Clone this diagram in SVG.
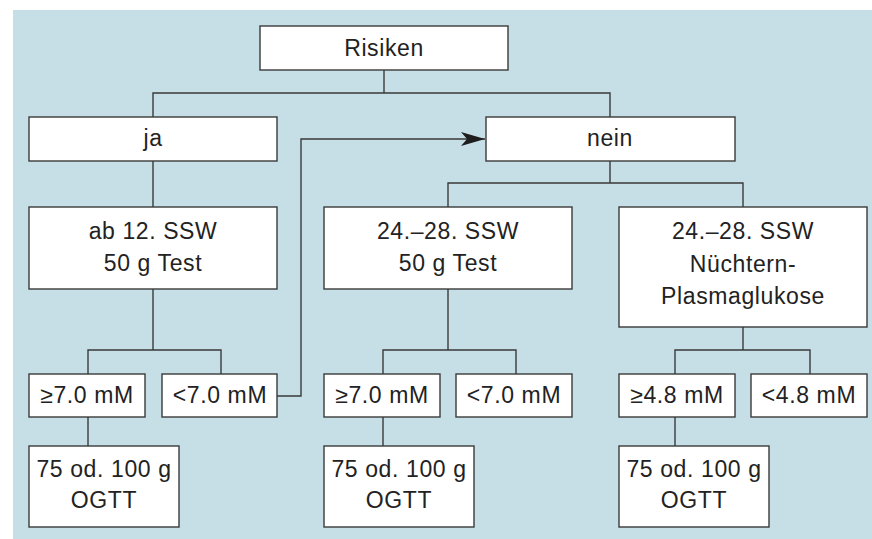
<svg xmlns="http://www.w3.org/2000/svg" width="872" height="539" viewBox="0 0 872 539">
<defs>
<style>
.bx{fill:#fff;stroke:#3a3a3a;stroke-width:1.4}
.ln{fill:none;stroke:#3a3a3a;stroke-width:1.4}
text{font-family:"Liberation Sans",Arial,sans-serif;font-size:23px;letter-spacing:0.6px;fill:#222;text-anchor:middle}
</style>
<marker id="ah" markerWidth="26" markerHeight="16" refX="24" refY="7" orient="auto" markerUnits="userSpaceOnUse">
<path d="M0,0 L24,7 L0,14 L6,7 Z" fill="#1e1e1e"/>
</marker>
</defs>
<rect x="0" y="0" width="872" height="539" fill="#fff"/>
<rect x="13" y="10" width="859" height="529" fill="#c6dfe6"/>
<g id="connectors">
<path class="ln" d="M384,70 V93 M153,117 V93 H610 V117"/>
<path class="ln" d="M153,161 V207"/>
<path class="ln" d="M610,161 V183 M448,207 V183 H743 V207"/>
<path class="ln" d="M153,289 V350 M88,374 V350 H221 V374"/>
<path class="ln" d="M448,289 V350 M383,374 V350 H516 V374"/>
<path class="ln" d="M743,327 V350 M675,374 V350 H810 V374"/>
<path class="ln" d="M88,417 V446 M383,417 V446 M675,417 V446"/>
<path class="ln" d="M277,396 H301 V139 H485" marker-end="url(#ah)"/>
</g>
<g id="risiken"><rect class="bx" x="260" y="26" width="248" height="44"/><text x="384" y="56">Risiken</text></g>
<g id="ja"><rect class="bx" x="29" y="117" width="248" height="44"/><text x="153" y="146">ja</text></g>
<g id="nein"><rect class="bx" x="486" y="117" width="249" height="44"/><text x="610" y="146">nein</text></g>
<g id="ab12"><rect class="bx" x="29" y="207" width="248" height="82"/><text x="153" y="239">ab 12. SSW</text><text x="153" y="271">50 g Test</text></g>
<g id="ssw50"><rect class="bx" x="324" y="207" width="248" height="82"/><text x="448" y="239">24.–28. SSW</text><text x="448" y="271">50 g Test</text></g>
<g id="sswnp"><rect class="bx" x="619" y="207" width="248" height="120"/><text x="743" y="239">24.–28. SSW</text><text x="743" y="272">Nüchtern-</text><text x="743" y="304">Plasmaglukose</text></g>
<g id="ge70a"><rect class="bx" x="29" y="374" width="116" height="43"/><text x="87" y="403">≥7.0 mM</text></g>
<g id="lt70a"><rect class="bx" x="162" y="374" width="115" height="43"/><text x="220" y="403">&lt;7.0 mM</text></g>
<g id="ge70b"><rect class="bx" x="324" y="374" width="116" height="43"/><text x="382" y="403">≥7.0 mM</text></g>
<g id="lt70b"><rect class="bx" x="456" y="374" width="116" height="43"/><text x="514" y="403">&lt;7.0 mM</text></g>
<g id="ge48"><rect class="bx" x="619" y="374" width="116" height="43"/><text x="677" y="403">≥4.8 mM</text></g>
<g id="lt48"><rect class="bx" x="751" y="374" width="116" height="43"/><text x="809" y="403">&lt;4.8 mM</text></g>
<g id="ogtt1"><rect class="bx" x="29" y="446" width="150" height="81"/><text x="104" y="477">75 od. 100 g</text><text x="104" y="508">OGTT</text></g>
<g id="ogtt2"><rect class="bx" x="324" y="446" width="150" height="81"/><text x="399" y="477">75 od. 100 g</text><text x="399" y="508">OGTT</text></g>
<g id="ogtt3"><rect class="bx" x="619" y="446" width="150" height="81"/><text x="694" y="477">75 od. 100 g</text><text x="694" y="508">OGTT</text></g>
</svg>
